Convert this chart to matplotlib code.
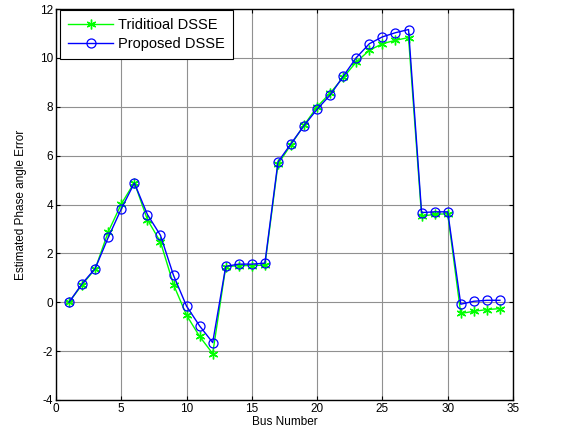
import matplotlib
matplotlib.use("Agg")
import matplotlib.pyplot as plt

plt.rcParams['font.family'] = ['Liberation Sans', 'DejaVu Sans']
plt.rcParams['axes.unicode_minus'] = False

bus = list(range(1, 35))
traditional = [0, 0.72, 1.36, 2.88, 4.02, 4.9, 3.38, 2.47, 0.72, -0.53,
               -1.4, -2.1, 1.45, 1.5, 1.5, 1.52, 5.65, 6.45, 7.25, 8.0,
               8.56, 9.2, 9.83, 10.31, 10.58, 10.72, 10.83, 3.52, 3.6, 3.62,
               -0.46, -0.37, -0.3, -0.26]
proposed = [0, 0.76, 1.38, 2.65, 3.82, 4.88, 3.59, 2.74, 1.1, -0.16,
            -0.97, -1.65, 1.47, 1.56, 1.56, 1.6, 5.74, 6.49, 7.23, 7.9,
            8.48, 9.25, 10.01, 10.58, 10.86, 11.03, 11.16, 3.67, 3.7, 3.7,
            -0.08, 0.04, 0.08, 0.08]

fig = plt.figure(figsize=(5.65, 4.46), dpi=100)
ax = fig.add_axes([56/565, 1-400/446, (513-56)/565, (400-9)/446])

ax.plot(bus, traditional, color=(0, 1, 0), marker=(6, 2, 0), markersize=7,
        markeredgewidth=1, linewidth=1, label='Triditioal DSSE')
ax.plot(bus, proposed, color=(0, 0, 1), marker='o', markersize=6.5,
        markerfacecolor='none', markeredgewidth=0.9, linewidth=1,
        label='Proposed DSSE')

ax.set_xlim(0, 35)
ax.set_ylim(-4, 12)
ax.set_xticks(range(0, 36, 5))
ax.set_yticks(range(-4, 13, 2))
ax.grid(True, color='#909090', linewidth=0.8)
ax.tick_params(direction='in', top=True, right=True, labelsize=8.5, length=3, pad=2)
for s in ax.spines.values():
    s.set_linewidth(1.0)
ax.set_xlabel('Bus Number', fontsize=8.5, labelpad=1)
ax.set_ylabel('Estimated Phase angle Error', fontsize=8.5, labelpad=9)

leg = ax.legend(loc='upper left', bbox_to_anchor=(4/457, 1 - 1/391), fontsize=10.5,
                fancybox=False, framealpha=1, edgecolor='black',
                borderaxespad=0.0, handlelength=3.1, borderpad=0.55,
                labelspacing=0.35, handletextpad=0.35)
leg.get_frame().set_linewidth(0.8)

fig.savefig('out.png', dpi=100)
